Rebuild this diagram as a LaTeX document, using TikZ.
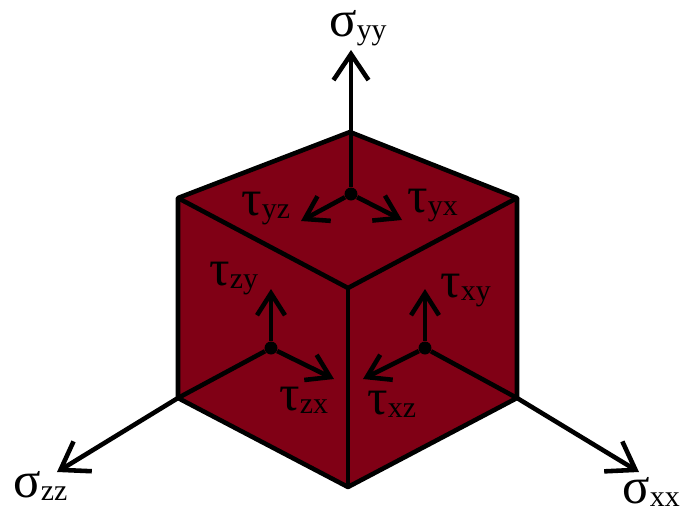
\documentclass[tikz,border=0pt]{standalone}
\usepackage{fontspec}
\setmainfont{Liberation Serif}
\usepackage{tikz}
\usetikzlibrary{arrows.meta}
\definecolor{cubered}{RGB}{128,0,21}
\newcommand{\stress}[2]{#1{\fontsize{17}{18}\selectfont\raisebox{-2pt}{#2}}}

\begin{document}
\begin{tikzpicture}[
    x=0.02cm, y=-0.02cm,
    edge/.style={line width=2.6pt, line join=round},
    shear/.style={edge, -{Straight Barb[length=4.4mm, width=5.6mm, line width=2.6pt]}},
    axis/.style={edge, -{Straight Barb[length=5.2mm, width=7mm, line width=2.6pt]}},
    joint/.style={circle, fill=black, inner sep=0pt, minimum size=2.6mm},
    stresslabel/.style={inner sep=0pt, font=\fontsize{29}{30}\selectfont}
]
\useasboundingbox (0,0) rectangle (681,508);
% cube corners
\coordinate (top) at (350,132);
\coordinate (left) at (178,198);
\coordinate (right) at (517,198);
\coordinate (mid) at (348,288);
\coordinate (lowleft) at (178,398);
\coordinate (lowright) at (517,398);
\coordinate (bottom) at (348,487);
\fill[cubered] (top) -- (right) -- (lowright) -- (bottom) -- (lowleft) -- (left) -- cycle;
\draw[edge] (top) -- (right) -- (lowright) -- (bottom) -- (lowleft) -- (left) -- cycle;
\draw[edge] (left) -- (mid) -- (right);
\draw[edge] (mid) -- (bottom);

% face centres
\node[joint] (ytop) at (351,194) {};
\node[joint] (zface) at (271,348) {};
\node[joint] (xface) at (425,348) {};

% arrow ends
\coordinate (yend) at (351,50);
\coordinate (zend) at (57,472);
\coordinate (xend) at (639,472);
\coordinate (yzend) at (301,221);
\coordinate (yxend) at (402,220);
\coordinate (zyend) at (271,289);
\coordinate (zxend) at (334,379);
\coordinate (xyend) at (425,289);
\coordinate (xzend) at (363,379);

\draw[axis] (ytop) -- (yend);
\draw[edge] (zface) -- (lowleft);
\draw[axis] (lowleft) -- (zend);
\draw[edge] (xface) -- (lowright);
\draw[axis] (lowright) -- (xend);
\draw[shear] (ytop) -- (yzend);
\draw[shear] (ytop) -- (yxend);
\draw[shear] (zface) -- (zyend);
\draw[shear] (zface) -- (zxend);
\draw[shear] (xface) -- (xyend);
\draw[shear] (xface) -- (xzend);

\node[stresslabel, anchor=base west] (syy) at (329,36) {\stress{σ}{yy}};
\node[stresslabel, anchor=base west] (szz) at (13,497) {\stress{σ}{zz}};
\node[stresslabel, anchor=base west] (sxx) at (622,503) {\stress{σ}{xx}};
\node[stresslabel, anchor=base west] (tyz) at (241,215) {\stress{τ}{yz}};
\node[stresslabel, anchor=base west] (tyx) at (407,212) {\stress{τ}{yx}};
\node[stresslabel, anchor=base west] (tzy) at (209,285) {\stress{τ}{zy}};
\node[stresslabel, anchor=base west] (txy) at (440,297) {\stress{τ}{xy}};
\node[stresslabel, anchor=base west] (tzx) at (279,410) {\stress{τ}{zx}};
\node[stresslabel, anchor=base west] (txz) at (367,414) {\stress{τ}{xz}};
\end{tikzpicture}
\end{document}
